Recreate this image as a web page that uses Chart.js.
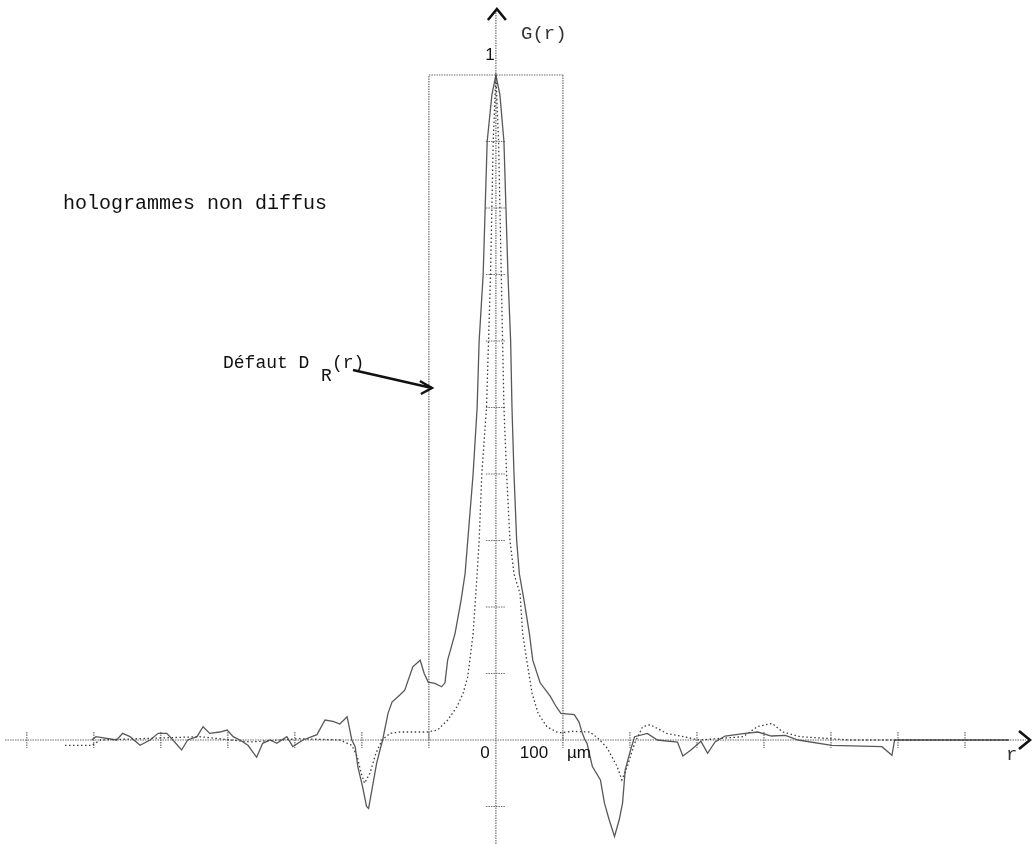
<!DOCTYPE html>
<html>
<head>
<meta charset="utf-8">
<script src="https://cdn.jsdelivr.net/npm/chart.js"></script>
<style>
    html, body { margin: 0; padding: 0; background: #fff; }
    #wrap { width: 1032px; height: 844px; }
</style>
</head>
<body>
<div id="wrap"><canvas id="gChart"></canvas></div>
<script>
// G(r) large (trait continu) - r en µm
const rWide = [-603, -597, -566, -557, -546, -531, -516, -504, -491, -482,
    -469, -460, -446, -437, -427, -412, -401, -392, -382, -370,
    -357, -348, -337, -327, -312, -303, -288, -267, -255, -243,
    -233, -222, -215, -210, -206, -199, -193, -190, -185, -178,
    -173, -169, -161, -155, -143, -136, -124, -113, -107, -101,
    -91, -81, -76, -72, -61, -52, -46, -42, -34, -28,
    -25, -19, -16, -13, -6, 0, 6, 12, 15, 18,
    22, 24, 27, 31, 35, 42, 50, 55, 66, 81,
    90, 97, 117, 124, 129, 133, 136, 144, 156, 162,
    169, 177, 184, 189, 193, 201, 207, 226, 241, 271,
    279, 291, 306, 316, 327, 342, 372, 391, 411, 432,
    451, 501, 576, 591, 595, 691, 766];
const gWide = [0, 0.005, 0, 0.01, 0.005, -0.008, 0, 0.01, 0.01, 0,
    -0.015, 0, 0.005, 0.02, 0.01, 0.012, 0.015, 0.005, 0, -0.008,
    -0.026, -0.005, 0, -0.005, 0.005, -0.01, 0, 0.008, 0.03, 0.028,
    0.024, 0.035, 0, -0.01, -0.04, -0.07, -0.1, -0.103, -0.075, -0.035,
    -0.015, 0, 0.04, 0.057, 0.068, 0.075, 0.11, 0.12, 0.1, 0.087,
    0.085, 0.08, 0.086, 0.12, 0.16, 0.21, 0.25, 0.3, 0.4, 0.5,
    0.6, 0.7, 0.8, 0.9, 0.97, 1, 0.97, 0.9, 0.8, 0.7,
    0.6, 0.5, 0.4, 0.3, 0.25, 0.21, 0.16, 0.12, 0.086, 0.066,
    0.05, 0.04, 0.038, 0.027, 0.01, 0, -0.005, -0.04, -0.06, -0.095,
    -0.12, -0.145, -0.12, -0.095, -0.045, -0.015, 0.005, 0.01, 0, -0.003,
    -0.024, -0.015, -0.002, -0.02, -0.003, 0.006, 0.01, 0.012, 0.006, 0.007,
    0, -0.008, -0.01, -0.023, 0, 0, 0];

// G(r) étroit (pointillé)
const rNarrow = [-643, -603, -590, -442, -367, -293, -233, -215, -207, -201,
    -196, -188, -179, -170, -158, -143, -103, -87, -72, -58,
    -49, -42, -34, -28, -25, -21, -14, -11, -8, -6,
    -4, 0, 4, 6, 8, 10, 12, 16, 21, 27,
    36, 40, 46, 54, 63, 76, 91, 97, 115, 140,
    152, 166, 181, 188, 196, 207, 219, 230, 255, 304,
    369, 390, 412, 428, 454, 528, 767];
const gNarrow = [-0.008, -0.008, 0, 0.005, -0.003, 0.002, 0, -0.008, -0.025, -0.05,
    -0.065, -0.05, -0.02, 0, 0.01, 0.012, 0.012, 0.015, 0.03, 0.05,
    0.07, 0.095, 0.16, 0.25, 0.3, 0.4, 0.5, 0.6, 0.7, 0.8,
    0.9, 1, 0.9, 0.8, 0.7, 0.6, 0.5, 0.4, 0.3, 0.25,
    0.22, 0.16, 0.12, 0.07, 0.04, 0.02, 0.012, 0.011, 0.013, 0.012,
    0.003, -0.012, -0.04, -0.06, -0.04, -0.005, 0.02, 0.023, 0.01, 0,
    0.005, 0.02, 0.025, 0.012, 0.005, 0, 0];

// graduations
const xTicks = [-700, -600, -500, -400, -300, -200, -100, 100, 200, 300, 400, 500, 600, 700];
const yTicks = [-0.1, 0.1, 0.2, 0.3, 0.4, 0.5, 0.6, 0.7, 0.8, 0.9];
const xLabels = ['0', '100', 'µm'];
const xLabelPos = [0, 100, 100];
// défaut D_R(r) : fenêtre rectangulaire
const defautR = [-100, 100];
const defautG = [0, 1];

function seg(ctx, x1, y1, x2, y2) {
    ctx.beginPath();
    ctx.moveTo(x1, y1);
    ctx.lineTo(x2, y2);
    ctx.stroke();
}

const decor = {
    id: 'decor',
    beforeDatasetsDraw(chart) {
        const { ctx, scales: { x, y } } = chart;
        const x0 = x.getPixelForValue(0);
        const y0 = y.getPixelForValue(0);
        ctx.save();
        ctx.strokeStyle = '#6e6e6e';
        ctx.lineWidth = 1.2;
        ctx.setLineDash([1.5, 1]);
        // axes
        seg(ctx, 5, y0, 1026, y0);
        seg(ctx, x0, 844, x0, 10);
        // ticks en croix
        xTicks.forEach(v => {
            const px = x.getPixelForValue(v);
            seg(ctx, px, y0 - 8, px, y0 + 8);
        });
        yTicks.forEach(v => {
            const py = y.getPixelForValue(v);
            seg(ctx, x0 - 10, py, x0 + 10, py);
        });
        // rectangle du défaut
        const xl = x.getPixelForValue(defautR[0]);
        const xr = x.getPixelForValue(defautR[1]);
        const yt = y.getPixelForValue(defautG[1]);
        const yb = y.getPixelForValue(defautG[0]);
        seg(ctx, xl, yb, xl, yt);
        seg(ctx, xl, yt, xr, yt);
        seg(ctx, xr, yt, xr, yb);
        ctx.restore();
    },
    afterDraw(chart) {
        const { ctx, scales: { x, y } } = chart;
        const x0 = x.getPixelForValue(0);
        const y0 = y.getPixelForValue(0);
        ctx.save();
        // fleches des axes
        ctx.strokeStyle = '#111';
        ctx.lineWidth = 2.6;
        ctx.setLineDash([]);
        ctx.beginPath();
        ctx.moveTo(x0 - 8, 20); ctx.lineTo(x0 + 1, 9); ctx.lineTo(x0 + 10, 20);
        ctx.stroke();
        ctx.beginPath();
        ctx.moveTo(1019, y0 - 9); ctx.lineTo(1030, y0); ctx.lineTo(1019, y0 + 9);
        ctx.stroke();

        // fleche "Défaut"
        const xl = x.getPixelForValue(defautR[0]);
        ctx.lineWidth = 2.5;
        seg(ctx, 353, 370, xl + 3, 388);
        ctx.beginPath();
        ctx.moveTo(xl - 9, 381); ctx.lineTo(xl + 3, 388); ctx.lineTo(xl - 8, 394);
        ctx.stroke();

        ctx.fillStyle = '#111';
        ctx.textBaseline = 'alphabetic';
        ctx.textAlign = 'left';
        ctx.font = '20px "Liberation Mono", "DejaVu Sans Mono", monospace';
        ctx.fillText('hologrammes non diffus', 63, 209);

        ctx.font = '18px "Liberation Mono", "DejaVu Sans Mono", monospace';
        ctx.fillText('Défaut D', 223, 368);
        ctx.fillText('R', 321, 381);
        ctx.fillText('(r)', 332, 368);

        ctx.fillStyle = '#333';
        ctx.font = '19px "Liberation Mono", "DejaVu Sans Mono", monospace';
        ctx.fillText('G(r)', 521, 39);
        ctx.fillText('r', 1006, 760);

        // libelles des graduations
        ctx.fillStyle = '#111';
        ctx.font = '17px "Liberation Sans", Arial, sans-serif';
        ctx.textAlign = 'center';
        ctx.textBaseline = 'middle';
        ctx.fillText('1', x0 - 6, y.getPixelForValue(1) - 20);
        const offs = [-11, -29, 16];
        xLabels.forEach((t, i) => {
            ctx.fillText(t, x.getPixelForValue(xLabelPos[i]) + offs[i], y0 + 13);
        });
        ctx.restore();
    }
};

new Chart(document.getElementById('gChart'), {
    type: 'line',
    data: {
        datasets: [{
            label: 'G(r) large',
            data: rWide.map((r, i) => ({ x: r, y: gWide[i] })),
            borderColor: 'rgba(70, 70, 70, 0.9)',
            borderWidth: 1.3,
            pointRadius: 0,
            tension: 0
        }, {
            label: 'G(r) étroit',
            data: rNarrow.map((r, i) => ({ x: r, y: gNarrow[i] })),
            borderColor: 'rgba(40, 40, 40, 0.9)',
            borderWidth: 1.3,
            borderDash: [1.5, 2.5],
            pointRadius: 0,
            tension: 0
        }]
    },
    options: {
        responsive: true,
        maintainAspectRatio: false,
        animation: false,
        layout: { padding: 0 },
        scales: {
            x: { type: 'linear', min: -740, max: 800, display: false },
            y: { min: -0.1564, max: 1.1128, display: false }
        },
        plugins: {
            legend: { display: false },
            tooltip: { enabled: false }
        }
    },
    plugins: [decor]
});
</script>
</body>
</html>
